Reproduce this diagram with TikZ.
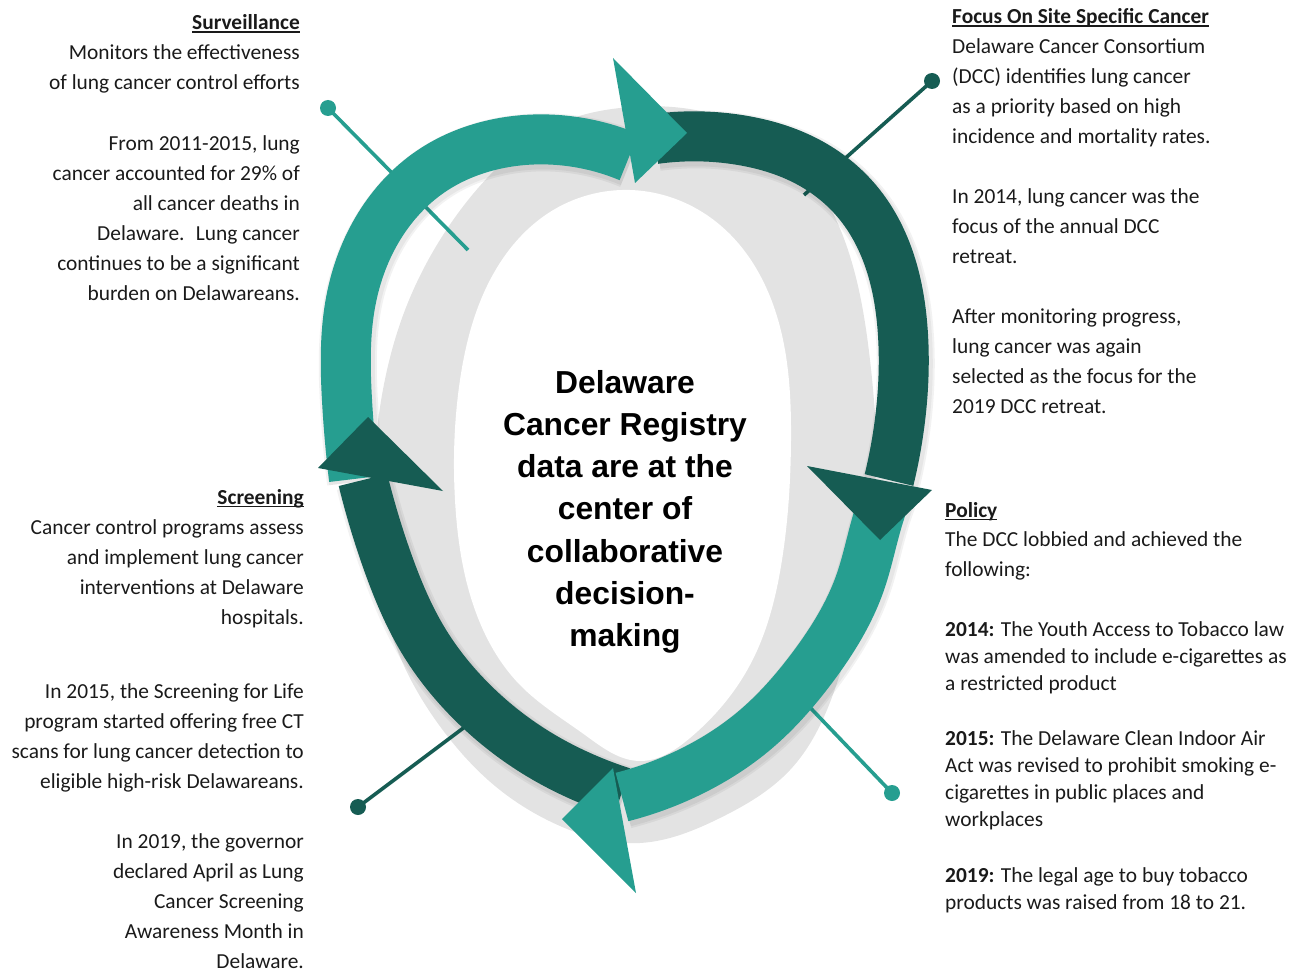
\documentclass[tikz,border=0pt]{standalone}
\usepackage{fontspec}
\setmainfont{Carlito}
\newfontfamily\arialfont{Liberation Sans}
\usetikzlibrary{hobby}
\definecolor{cteal}{HTML}{269E90}
\definecolor{cdark}{HTML}{165C53}
\definecolor{cgray}{HTML}{E3E3E3}
\definecolor{ctext}{HTML}{1A1A1A}
\newcommand\bodyfont{\fontsize{21.4}{30}\selectfont}
\newcommand\hd[1]{\textbf{\setbox0\hbox{#1}\rlap{\rule[-3.2pt]{\wd0}{1.7pt}}\box0}}
\newcommand\colR[1]{\begin{tabular}[t]{@{}r@{}}#1\end{tabular}}
\newcommand\colL[1]{\begin{tabular}[t]{@{}l@{}}#1\end{tabular}}
\tikzset{
  txt/.style={inner sep=0pt, text=ctext, font=\bodyfont},
  txtr/.style={txt, anchor=base east},
  txtl/.style={txt, anchor=base west},
  band/.style={line width=50pt, use Hobby shortcut},
  bshadow/.style={line width=#1, use Hobby shortcut, black, opacity=0.05, shift={(2,3)}},
  pinline/.style={line width=3.6pt},
  pindot/.style={circle, inner sep=0pt, minimum size=16pt, fill=#1},
}
\begin{document}
\begin{tikzpicture}[x=1pt,y=-1pt]
\useasboundingbox (0,0) rectangle (1299,971);
% gray ring
\fill[cgray, use Hobby shortcut, closed=true] (620,108) .. (720,116) .. (800,165) .. (848,250) .. (870,360) .. (876,460) .. (865,570) .. (838,680) .. (790,770) .. (720,818) .. (640,843) .. (560,826) .. (495,786) .. (445,733) .. (405,668) .. (380,590) .. (373,500) .. (382,395) .. (405,310) .. (445,232) .. (500,165) .. (560,123);
\fill[white, use Hobby shortcut, closed=true] (630,190) .. (720,225) .. (775,310) .. (791,440) .. (782,560) .. (750,665) .. (690,738) .. (640,761) .. (585,735) .. (520,685) .. (475,610) .. (455,500) .. (460,380) .. (490,280) .. (550,212);
% pins
\node[pindot=cteal] (sdot) at (328,108) {};
\coordinate (send) at (468,250);
\node[pindot=cdark] (fdot) at (932,81) {};
\coordinate (fend) at (804,195);
\node[pindot=cdark] (cdot) at (358,807) {};
\coordinate (cend) at (470,723);
\node[pindot=cteal] (pdot) at (892,793) {};
\coordinate (pend) at (800,697);
\draw[pinline, cteal] (sdot.center) -- (send);
\draw[pinline, cdark] (fdot.center) -- (fend);
\draw[pinline, cdark] (cdot.center) -- (cend);
\draw[pinline, cteal] (pdot.center) -- (pend);
% band paths
\def\bandA{(354,479) .. (347,400) .. (351,300) .. (380,225) .. (430,172) .. (492,145) .. (558,140) .. (629,157)}
\def\bandB{(655,139) .. (740,140) .. (810,163) .. (860,205) .. (890,262) .. (903,335) .. (900,420) .. (889,480)}
\def\bandC{(622,792) .. (597,783) .. (535,752) .. (470,700) .. (423,640) .. (388,563) .. (363,480)}
\def\bandD{(886,495) .. (877,522) .. (860,583) .. (812,668) .. (755,730) .. (692,771) .. (622,797)}
% shadows
\foreach \w in {58,54} {
  \draw[bshadow=\w pt] \bandA;
  \draw[bshadow=\w pt] \bandB;
  \draw[bshadow=\w pt] \bandC;
  \draw[bshadow=\w pt] \bandD;
}
% bands
\draw[band, cteal] \bandA;
\draw[band, cdark] \bandB;
\draw[band, cdark] \bandC;
\draw[band, cteal] \bandD;
% arrow heads
\fill[cteal] (613,58) -- (687,133) -- (635,183) -- cycle;
\fill[cdark] (807,466) -- (880,540) -- (932,490) -- cycle;
\fill[cteal] (613,768) -- (562,819) -- (636,893) -- cycle;
\fill[cdark] (318,468) -- (368,417) -- (443,491) -- cycle;
% center text
\node[inner sep=0pt, anchor=base, text=black, font={\arialfont\bfseries\fontsize{31.8}{42.3}\selectfont}] (center) at (625,393)
  {\begin{tabular}[t]{@{}c@{}}Delaware\\Cancer Registry\\data are at the\\center of\\collaborative\\decision-\\making\end{tabular}};
% left texts
\node[txtr] (surv) at (300,30) {\colR{\hd{Surveillance}\\Monitors the effectiveness\\of lung cancer control efforts}};
\node[txtr] (surv2) at (300,150) {\colR{From 2011-2015, lung\\cancer accounted for 29\% of\\all cancer deaths in\\Delaware.~ Lung cancer\\continues to be a significant\\burden on Delawareans.}};
\node[txtr] (scr) at (304,504) {\colR{\hd{Screening}\\Cancer control programs assess\\and implement lung cancer\\interventions at Delaware\\hospitals.}};
\node[txtr] (scr2) at (304,698) {\colR{In 2015, the Screening for Life\\program started offering free CT\\scans for lung cancer detection to\\eligible high-risk Delawareans.}};
\node[txtr] (scr3) at (304,848) {\colR{In 2019, the governor\\declared April as Lung\\Cancer Screening\\Awareness Month in\\Delaware.}};
% right texts
\node[txtl] (foc) at (952,24) {\colL{\hd{Focus On Site Specific Cancer}\\Delaware Cancer Consortium\\(DCC) identifies lung cancer\\as a priority based on high\\incidence and mortality rates.}};
\node[txtl] (foc2) at (952,204) {\colL{In 2014, lung cancer was the\\focus of the annual DCC\\retreat.}};
\node[txtl] (foc3) at (952,323) {\colL{After monitoring progress,\\lung cancer was again\\selected as the focus for the\\2019 DCC retreat.}};
\node[txtl, font={\fontsize{21.4}{29.5}\selectfont}] (pol) at (945,517) {\colL{\hd{Policy}\\The DCC lobbied and achieved the\\following:}};
\node[txtl, font={\fontsize{21.4}{27}\selectfont}] (pol2) at (945,636) {\colL{\textbf{2014:} The Youth Access to Tobacco law\\was amended to include e-cigarettes as\\a restricted product}};
\node[txtl, font={\fontsize{21.4}{27}\selectfont}] (pol3) at (945,745) {\colL{\textbf{2015:} The Delaware Clean Indoor Air\\Act was revised to prohibit smoking e-\\cigarettes in public places and\\workplaces}};
\node[txtl, font={\fontsize{21.4}{27}\selectfont}] (pol4) at (945,882) {\colL{\textbf{2019:} The legal age to buy tobacco\\products was raised from 18 to 21.}};
\end{tikzpicture}
\end{document}
